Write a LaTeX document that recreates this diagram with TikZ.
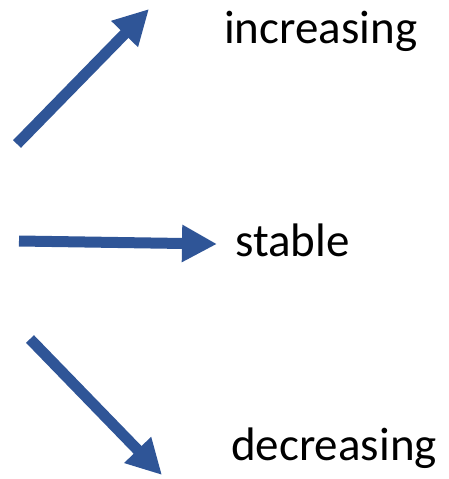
\documentclass[tikz,border=0pt]{standalone}
\usepackage{fontspec}
\setmainfont{Carlito}
\usetikzlibrary{arrows.meta}
\definecolor{trendblue}{RGB}{47,85,151}

\begin{document}
\begin{tikzpicture}[x=1pt, y=-1pt,
    trend/.style={draw=trendblue, line width=11pt,
                  -{Triangle[length=35pt, width=35pt]}},
    lbl/.style={anchor=base west, inner sep=0pt, font=\fontsize{47}{50}\selectfont}
]
    \useasboundingbox (0,0) rectangle (448,479);
    % arrow ends
    \coordinate (up0) at (17,144);
    \coordinate (up1) at (149,9);
    \coordinate (flat0) at (19,241);
    \coordinate (flat1) at (217,244);
    \coordinate (down0) at (30,339);
    \coordinate (down1) at (162,475);
    % labels
    \node[lbl] (inc) at (224,43) {increasing};
    \node[lbl] (stab) at (235,256) {stable};
    \node[lbl] (dec) at (231,460) {decreasing};
    % arrows
    \draw[trend] (up0) -- (up1);
    \draw[trend] (flat0) -- (flat1);
    \draw[trend] (down0) -- (down1);
\end{tikzpicture}
\end{document}
